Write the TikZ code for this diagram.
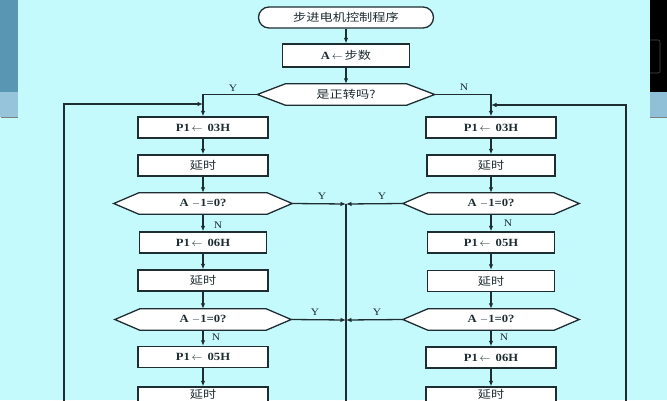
\documentclass[tikz,border=0pt]{standalone}
\usepackage{fontspec}
\setmainfont[FakeStretch=1.15]{Liberation Serif}
\newfontfamily\cjk[FakeStretch=1.2]{Noto Sans CJK SC}
\newcommand{\zhtext}[1]{{\cjk\mdseries #1}}
\usetikzlibrary{arrows.meta,calc}
\definecolor{bgc}{RGB}{196,250,252}
\definecolor{ink}{RGB}{30,45,50}
\definecolor{photo}{RGB}{88,150,180}
\definecolor{photolt}{RGB}{150,196,218}
\definecolor{panellt}{RGB}{143,192,216}
\pgfdeclarelayer{back}
\pgfdeclarelayer{mid}
\pgfsetlayers{back,mid,main}
\newcommand{\hexdraw}[2]{%
  \begin{pgfonlayer}{mid}
  \draw[ln,fill=white] (#1.west) -- ([xshift=#2]#1.north west) -- ([xshift=-#2]#1.north east)
     -- (#1.east) -- ([xshift=-#2]#1.south east) -- ([xshift=#2]#1.south west) -- cycle;
  \end{pgfonlayer}}
\tikzset{
  ln/.style={draw=ink,line width=1.3pt},
  arr/.style={ln,-{Latex[length=5.5pt,width=4.5pt]}},
  box/.style={draw=ink,line width=1.3pt,fill=white,minimum width=130pt,minimum height=21pt,
     inner sep=0pt,text=ink,font=\fontsize{11}{12}\selectfont\bfseries},
  hexn/.style={minimum width=177pt,minimum height=21pt,inner sep=0pt,text=ink,
     font=\fontsize{11}{12}\selectfont\bfseries},
  term/.style={box,rounded corners=10.5pt,minimum width=175pt},
  raised/.style={text depth=7pt},
  lbl/.style={font=\fontsize{10}{11}\selectfont,text=ink,inner sep=0pt}
}
\begin{document}
\begin{tikzpicture}[x=1pt,y=-1pt]
\useasboundingbox (0,0) rectangle (667,400);
\clip (0,0) rectangle (667,400);
\begin{pgfonlayer}{back}
  \fill[bgc] (0,0) rectangle (667,400);
  \fill[photo] (0,0) rectangle (18,92);
  \fill[photolt] (0,92) rectangle (18,117);
  \draw[gray,line width=0.8pt] (1,117) -- (18,117);
  \fill[black] (650,0) rectangle (667,92);
  \draw[gray!60!black,line width=0.6pt,rounded corners=2pt] (650,40) -- (660,40) -- (660,73) -- (650,73);
  \fill[panellt] (650,92) rectangle (667,117);
  \draw[gray,line width=0.8pt] (650,117.5) -- (667,117.5);
\end{pgfonlayer}

% top
\node[term] (start) at (346,17.5) {\zhtext{步进电机控制程序}};
\node[box,minimum width=127pt,minimum height=23pt] (a) at (346,55.5) {A\,$\leftarrow$\,\zhtext{步数}};
\node[hexn] (q) at (346,94.5) {\zhtext{是正转吗?}};
\hexdraw{q}{28pt}

% left column
\node[box] (b1) at (203,127.5) {P1\,$\leftarrow$\, 03H};
\node[box] (t1) at (203,165.5) {\zhtext{延时}};
\node[hexn,minimum width=178pt] (d1) at (203,203.5) {A\ $-$1=0?};
\hexdraw{d1}{25pt}
\node[box,minimum width=127pt] (b2) at (203,242.5) {P1\,$\leftarrow$\, 06H};
\node[box] (t2) at (203,280.5) {\zhtext{延时}};
\node[hexn,minimum width=176pt] (d2) at (203,319.5) {A\ $-$1=0?};
\hexdraw{d2}{25pt}
\node[box] (b3) at (203,357) {P1\,$\leftarrow$\, 05H};
\node[box,raised] (t3) at (203,397.5) {\zhtext{延时}};

% right column
\node[box] (rb1) at (491,127.5) {P1\,$\leftarrow$\, 03H};
\node[box,minimum width=128pt] (rt1) at (491,165.5) {\zhtext{延时}};
\node[hexn,minimum width=176pt] (rd1) at (491,203.5) {A\ $-$1=0?};
\hexdraw{rd1}{25pt}
\node[box,minimum width=127pt] (rb2) at (491,242.5) {P1\,$\leftarrow$\, 05H};
\node[box,minimum width=127pt] (rt2) at (491,281) {\zhtext{延时}};
\node[hexn,minimum width=176pt] (rd2) at (491,319.5) {A\ $-$1=0?};
\hexdraw{rd2}{25pt}
\node[box] (rb3) at (491,357.5) {P1\,$\leftarrow$\, 06H};
\node[box,raised] (rt3) at (491,397.5) {\zhtext{延时}};

% junction coordinates
\coordinate (lj) at (203,104);
\coordinate (rj) at (491,105);
\coordinate (lbot) at (64,402);
\coordinate (rbot) at (626,402);
\coordinate (mj1) at (346,204);
\coordinate (mj2) at (346,320);
\coordinate (mbot) at (346,402);

% connectors
\draw[arr] (start) -- (a);
\draw[arr] (a) -- (q);
\draw[arr] (q.west) -| (b1.north);
\draw[arr] (q.east) -| (rb1.north);
\draw[arr] (lbot) |- (lj);
\draw[arr] (rbot) |- (rj);

\draw[arr] (b1) -- (t1);
\draw[arr] (t1) -- (d1);
\draw[arr] (d1) -- (b2);
\draw[arr] (b2) -- (t2);
\draw[arr] (t2) -- (d2);
\draw[arr] (d2) -- (b3);
\draw[arr] (b3) -- (t3);

\draw[arr] (rb1) -- (rt1);
\draw[arr] (rt1) -- (rd1);
\draw[arr] (rd1) -- (rb2);
\draw[arr] (rb2) -- (rt2);
\draw[arr] (rt2) -- (rd2);
\draw[arr] (rd2) -- (rb3);
\draw[arr] (rb3) -- (rt3);

\draw[arr] (d1.east) -- (mj1);
\draw[arr] (rd1.west) -- (mj1);
\draw[arr] (d2.east) -- (mj2);
\draw[arr] (rd2.west) -- (mj2);
\draw[ln] (mj1) -- (mbot);

% labels
\node[lbl] (ly0) at (233,88) {Y};
\node[lbl] (ln0) at (464,87) {N};
\node[lbl] (ly1) at (322,196) {Y};
\node[lbl] (ry1) at (382,196) {Y};
\node[lbl] (ln1) at (218,225) {N};
\node[lbl] (rn1) at (508,223) {N};
\node[lbl] (ly2) at (315,312) {Y};
\node[lbl] (ry2) at (377,312) {Y};
\node[lbl] (ln2) at (216,337) {N};
\node[lbl] (rn2) at (504,337) {N};
\end{tikzpicture}
\end{document}
